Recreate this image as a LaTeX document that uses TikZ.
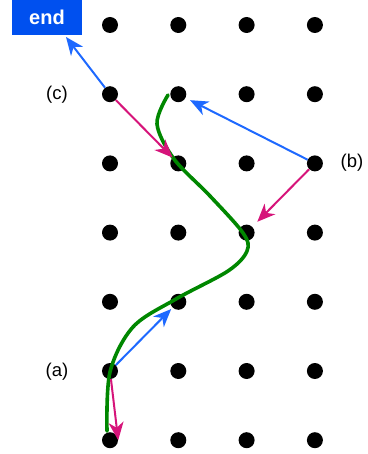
\documentclass[tikz,border=0pt]{standalone}
\usepackage{fontspec}
\setmainfont{Liberation Sans}
\usetikzlibrary{arrows.meta,calc,positioning}
\definecolor{movblue}{RGB}{30,105,255}
\definecolor{endblue}{RGB}{0,80,239}
\definecolor{movpink}{RGB}{214,20,122}
\definecolor{pathgreen}{RGB}{0,135,0}

\begin{document}
\begin{tikzpicture}[x=1pt,y=-1pt,
  dot/.style={circle,fill=black,inner sep=0pt,minimum size=16pt},
  mv/.style={line width=2pt,-{Stealth[length=18pt,width=15pt,inset=5.5pt]}},
  lab/.style={font=\fontsize{18.5}{20}\selectfont}]
\useasboundingbox (0,0) rectangle (367,454);
% grid of dots
\foreach \i in {1,...,4}
  \foreach \j in {1,...,7}
    \node[dot] (d\i\j) at ({110+68.3*(\i-1)},{25+69.2*(\j-1)}) {};
\node[fill=endblue,text=white,font=\bfseries\fontsize{20}{22}\selectfont,
  minimum width=70pt,minimum height=35pt,inner sep=0pt] (end) at (47,17.5) {end};
\coordinate (endtip) at (66,37);
\node[lab] (labc) at (57,95) {(c)};
\node[lab] (labb) at (352,163) {(b)};
\node[lab] (laba) at (57,372) {(a)};
% the curve
\draw[pathgreen,line width=3.6pt,line cap=round] plot[smooth,tension=0.55] coordinates
  {(107,431) (110,372) (133,327) (176,299) (228,271) (247,251) (243,233) (210,196) (174,159) (157,124) (168,95)};
% moves
\draw[mv,movblue] (d12) -- (endtip);
\draw[mv,movpink] (d12) -- (d23);
\draw[mv,movblue,shorten >=5pt] (d43) -- (d22);
\draw[mv,movpink,shorten >=7pt] (d43) -- (d34);
\draw[mv,movblue,shorten >=2pt] (d16) -- (d25);
\draw[mv,movpink] (d16) -- (d17.east);
\end{tikzpicture}
\end{document}
